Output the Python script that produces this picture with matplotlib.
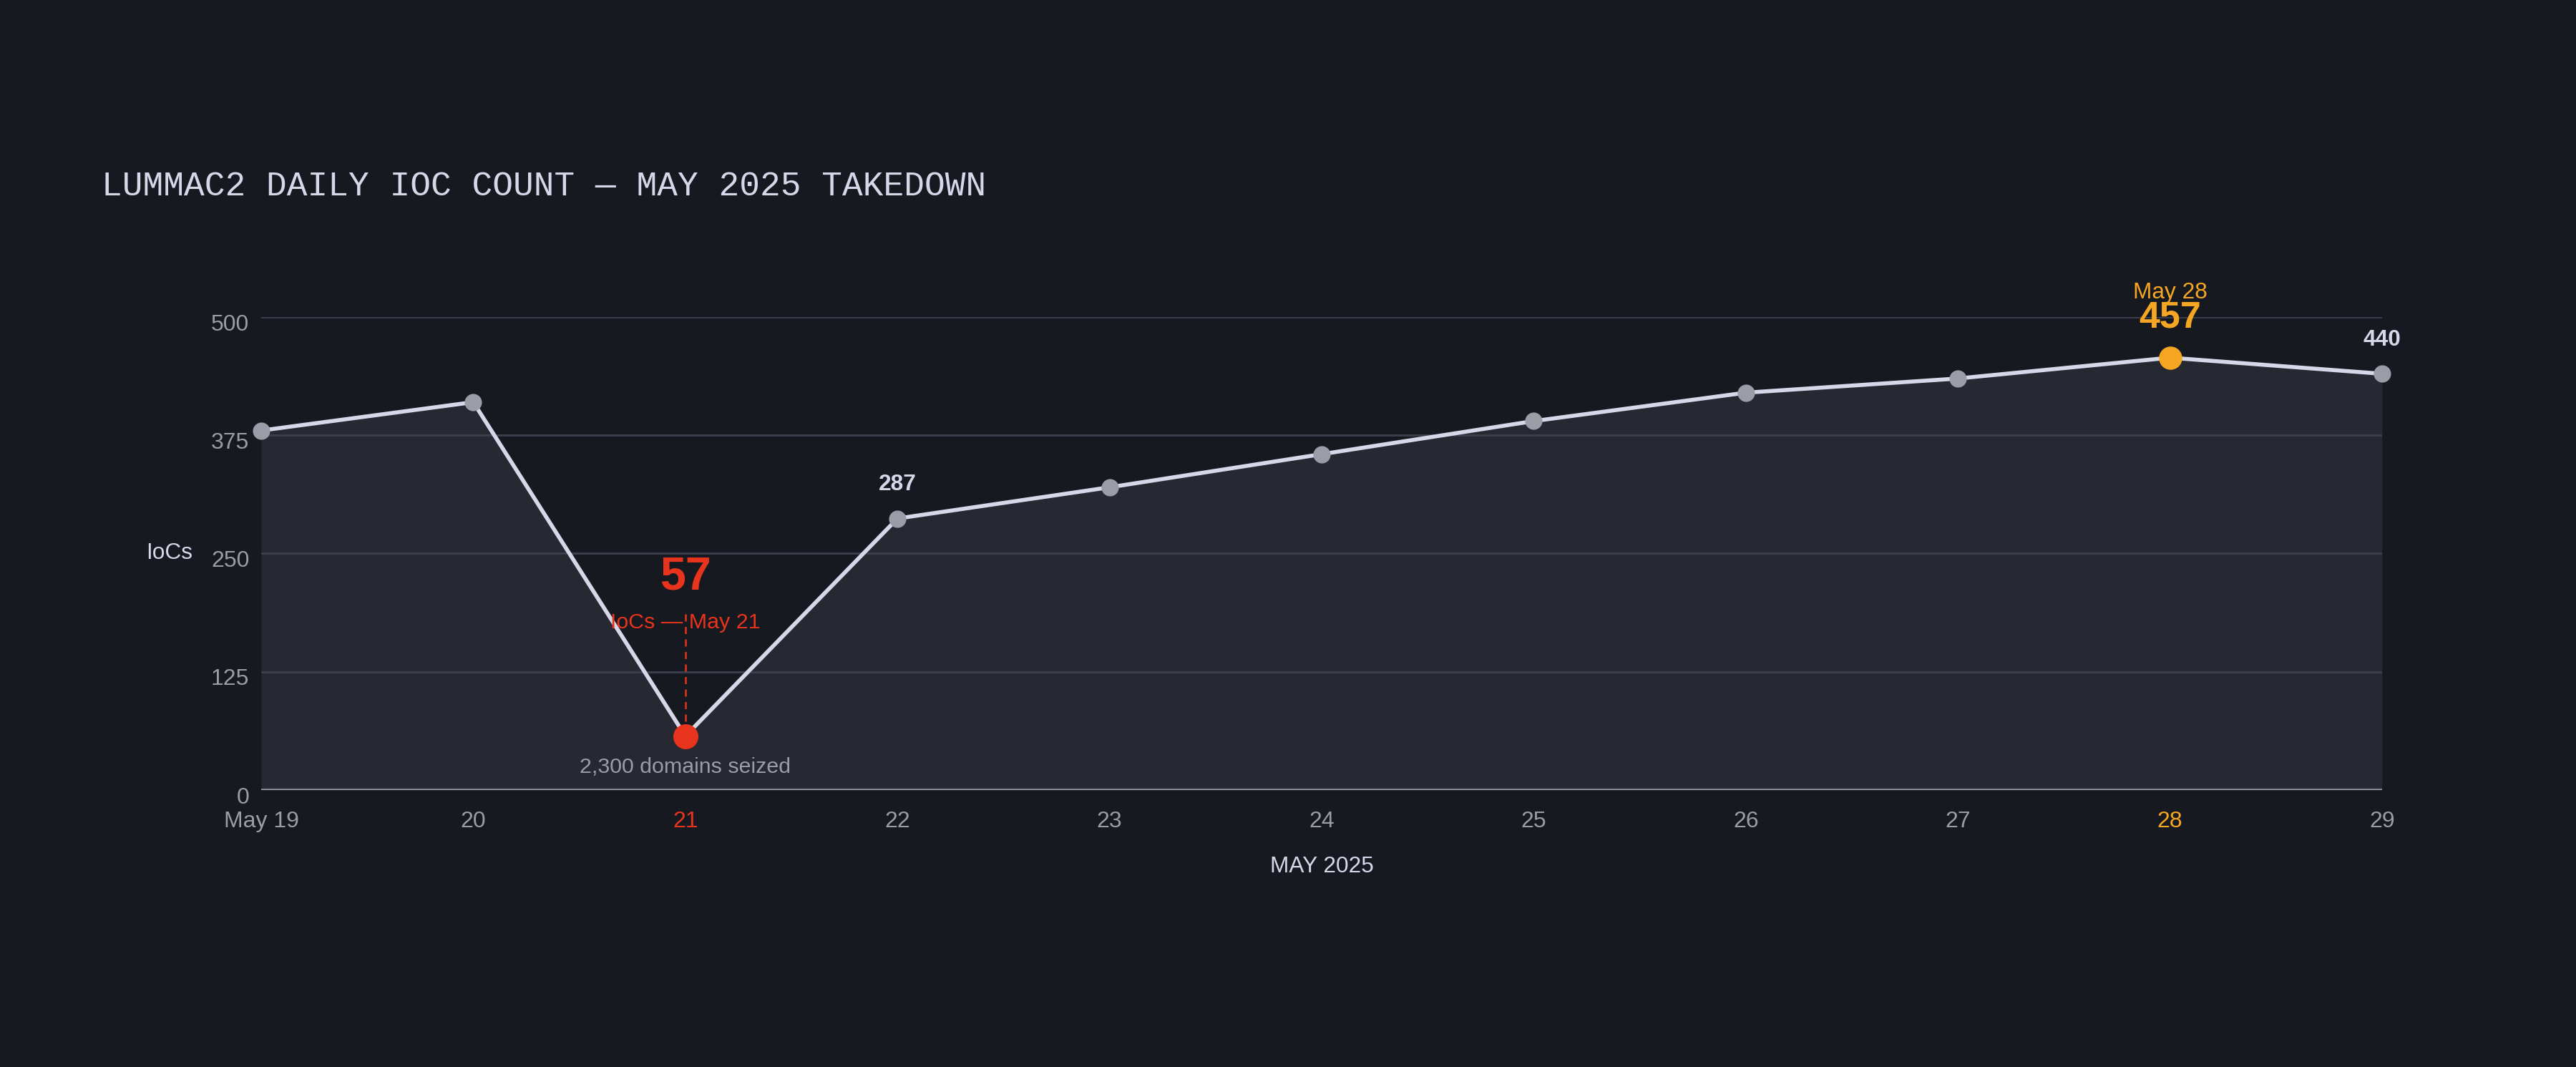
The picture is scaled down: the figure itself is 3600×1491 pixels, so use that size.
import matplotlib
matplotlib.use("Agg")
import matplotlib.pyplot as plt
from matplotlib.transforms import ScaledTranslation

days = ["May 19", "20", "21", "22", "23", "24", "25", "26", "27", "28", "29"]
iocs = [380, 410, 57, 287, 320, 355, 390, 420, 435, 457, 440]
yticks = [0, 125, 250, 375, 500]

low_idx = 2    # May 21 takedown
peak_idx = 9   # May 28 peak
labelled = [3, 10]   # plain value labels (287, 440)

bg = "#161920"
fill_c = "#262832"
line_c = "#d6d8ea"
dot_c = "#9a9ca6"
grid_c = "#3c3e4c"
red = "#e8341c"
orange = "#f5a623"
muted = "#9a9ca6"

plt.rcParams["font.family"] = ["Liberation Sans", "DejaVu Sans"]

fig = plt.figure(figsize=(12, 4.97), dpi=300, facecolor=bg)
ax = fig.add_axes([0.1014, 0.2596, 0.8233, 0.4433], facecolor=bg)

x = list(range(len(days)))
ax.fill_between(x, iocs, 0, color=fill_c, lw=0, zorder=1)
for t in yticks[1:]:
    ax.axhline(t, color=grid_c, lw=0.7, zorder=2)
ax.axhline(0, color="#989aa6", lw=0.85, zorder=3)
ax.plot(x, iocs, color=line_c, lw=1.35, zorder=4, clip_on=False)

normal = [i for i in x if i not in (low_idx, peak_idx)]
ax.plot([x[i] for i in normal], [iocs[i] for i in normal], "o", ms=5.8,
        color=dot_c, mec="none", zorder=5, clip_on=False)
ax.plot(x[low_idx], iocs[low_idx], "o", ms=8.4, color=red, mec="none",
        zorder=6, clip_on=False)
ax.plot(x[peak_idx], iocs[peak_idx], "o", ms=7.8, color=orange, mec="none",
        zorder=6, clip_on=False)

# takedown annotation
ax.plot([x[low_idx], x[low_idx]], [186, iocs[low_idx]], color=red, lw=0.6,
        ls=(0, (4, 3)), zorder=5)
ax.text(x[low_idx], 225, str(iocs[low_idx]), color=red, fontsize=15.5,
        fontweight="bold", ha="center", va="center", zorder=7)
ax.text(x[low_idx], 177, "IoCs — May 21", color=red, fontsize=7.3,
        ha="center", va="center", zorder=7)
ax.text(x[low_idx], 24, "2,300 domains seized", color=muted, fontsize=7.3,
        ha="center", va="center", zorder=7)

# peak annotation
ax.text(x[peak_idx], 499, str(iocs[peak_idx]), color=orange, fontsize=12.5,
        fontweight="bold", ha="center", va="center", zorder=7)
ax.text(x[peak_idx], 526, "May 28", color=orange, fontsize=7.6,
        ha="center", va="center", zorder=7)

for i in labelled:
    ax.text(x[i], iocs[i] + 36, str(iocs[i]), color=line_c, fontsize=7.6,
            fontweight="bold", ha="center", va="center", zorder=7)

ax.set_xlim(0, len(days) - 1)
ax.set_ylim(0, 500)
ax.set_xticks(x)
ax.set_xticklabels(days)
ax.set_yticks(yticks)
ax.tick_params(length=0, labelsize=7.7, labelcolor=muted)
ax.tick_params(axis="x", pad=7)
ax.tick_params(axis="y", pad=4)
ax.get_xticklabels()[low_idx].set_color(red)
ax.get_xticklabels()[peak_idx].set_color(orange)
shift = ScaledTranslation(0, -1.7 / 72, fig.dpi_scale_trans)
for lbl in ax.get_yticklabels():
    lbl.set_transform(lbl.get_transform() + shift)
for s in ax.spines.values():
    s.set_visible(False)

ax.set_xlabel("MAY 2025", color=line_c, fontsize=7.6, labelpad=8)
fig.text(0.0567, 0.4813, "IoCs", color=line_c, fontsize=7.6,
         ha="left", va="center")

fig.text(0.0395, 0.8256, "LUMMAC2 DAILY IOC COUNT — MAY 2025 TAKEDOWN",
         color=line_c, fontsize=11.5, family=["Liberation Mono", "DejaVu Sans Mono"],
         ha="left", va="center")

fig.savefig("out.png", dpi=300, facecolor=bg)
